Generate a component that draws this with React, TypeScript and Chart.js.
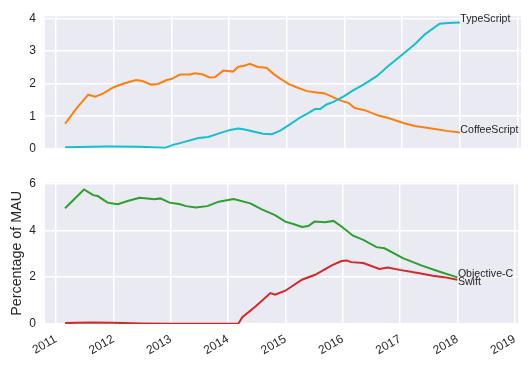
import React, { useEffect, useRef } from "react";
import { Chart, registerables } from "chart.js";

Chart.register(...registerables);

// ---- data (decimal years) ----
const xTickValues = [2011, 2012, 2013, 2014, 2015, 2016, 2017, 2018, 2019];
const topYTicks = [0, 1, 2, 3, 4];
const bottomYTicks = [0, 2, 4, 6];

const coffeeX = [2011.16, 2011.36, 2011.56, 2011.68, 2011.82, 2012.0, 2012.19, 2012.39, 2012.5, 2012.65, 2012.77, 2012.92, 2013.0, 2013.15, 2013.32, 2013.41, 2013.55, 2013.66, 2013.76, 2013.9, 2014.07, 2014.16, 2014.25, 2014.36, 2014.5, 2014.65, 2014.77, 2014.88, 2015.03, 2015.17, 2015.35, 2015.52, 2015.66, 2015.81, 2015.95, 2016.07, 2016.18, 2016.36, 2016.59, 2016.79, 2017.02, 2017.22, 2017.51, 2017.77, 2018.0];
const coffeeY = [0.77, 1.25, 1.66, 1.60, 1.70, 1.89, 2.01, 2.11, 2.08, 1.97, 1.99, 2.11, 2.14, 2.28, 2.28, 2.32, 2.28, 2.19, 2.20, 2.40, 2.37, 2.52, 2.54, 2.61, 2.51, 2.49, 2.30, 2.16, 1.99, 1.89, 1.77, 1.73, 1.70, 1.58, 1.47, 1.41, 1.25, 1.18, 1.02, 0.93, 0.79, 0.70, 0.62, 0.55, 0.50];

const tsX = [2011.16, 2011.85, 2012.0, 2012.43, 2012.89, 2013.03, 2013.18, 2013.47, 2013.64, 2013.84, 2014.02, 2014.16, 2014.25, 2014.42, 2014.59, 2014.74, 2014.88, 2015.05, 2015.23, 2015.35, 2015.49, 2015.58, 2015.69, 2015.81, 2015.98, 2016.15, 2016.33, 2016.56, 2016.76, 2017.02, 2017.22, 2017.4, 2017.65, 2017.8, 2018.0];
const tsY = [0.05, 0.07, 0.07, 0.06, 0.03, 0.12, 0.19, 0.33, 0.36, 0.48, 0.58, 0.62, 0.60, 0.53, 0.46, 0.45, 0.55, 0.74, 0.96, 1.07, 1.22, 1.22, 1.36, 1.44, 1.60, 1.79, 1.97, 2.23, 2.54, 2.92, 3.21, 3.52, 3.84, 3.86, 3.88];

const objcX = [2011.16, 2011.49, 2011.65, 2011.73, 2011.9, 2012.08, 2012.25, 2012.46, 2012.72, 2012.82, 2012.98, 2013.15, 2013.27, 2013.44, 2013.64, 2013.84, 2014.1, 2014.39, 2014.59, 2014.82, 2015.0, 2015.14, 2015.29, 2015.4, 2015.51, 2015.69, 2015.84, 2015.98, 2016.18, 2016.36, 2016.59, 2016.73, 2017.05, 2017.37, 2017.68, 2018.0];
const objcY = [4.94, 5.74, 5.50, 5.46, 5.18, 5.11, 5.25, 5.39, 5.32, 5.36, 5.18, 5.12, 5.03, 4.97, 5.03, 5.22, 5.33, 5.15, 4.89, 4.65, 4.37, 4.27, 4.14, 4.18, 4.37, 4.34, 4.40, 4.16, 3.77, 3.59, 3.28, 3.23, 2.81, 2.50, 2.24, 1.99];

const swiftX = [2011.16, 2011.6, 2012.0, 2012.5, 2013.0, 2013.5, 2014.0, 2014.18, 2014.25, 2014.48, 2014.74, 2014.82, 2015.0, 2015.29, 2015.52, 2015.81, 2015.98, 2016.07, 2016.15, 2016.36, 2016.64, 2016.79, 2016.99, 2017.34, 2017.57, 2017.77, 2018.0];
const swiftY = [0.04, 0.06, 0.05, 0.02, 0.01, 0.01, 0.01, 0.01, 0.29, 0.75, 1.32, 1.25, 1.42, 1.89, 2.10, 2.50, 2.69, 2.71, 2.64, 2.60, 2.35, 2.41, 2.31, 2.17, 2.06, 2.00, 1.89];

const topLabels = [
  { text: "TypeScript", x: 2018.0, y: 3.88 },
  { text: "CoffeeScript", x: 2018.0, y: 0.5 },
];
const bottomLabels = [
  { text: "Objective-C", x: 2018.0, y: 1.99 },
  { text: "Swift", x: 2018.0, y: 1.68 },
];

const X_MIN = 2010.81;
const X_MAX = 2019.06;
const TOP_Y_MAX = 4.07;
const BOTTOM_Y_MAX = 6.03;

const TEXT = "#262626";
const FONT = "'Liberation Sans', Arial, sans-serif";

const pts = (xs: number[], ys: number[]) => xs.map((x, i) => ({ x, y: ys[i] }));

const bgPlugin = {
  id: "bg",
  beforeDraw(chart: any) {
    const { ctx, chartArea } = chart;
    ctx.save();
    ctx.fillStyle = "#EAEAF2";
    ctx.fillRect(chartArea.left, chartArea.top, chartArea.right - chartArea.left, chartArea.bottom - chartArea.top);
    ctx.restore();
  },
};

const labelPlugin = (labels: { text: string; x: number; y: number }[]) => ({
  id: "endLabels",
  afterDatasetsDraw(chart: any) {
    const { ctx } = chart;
    const xs = chart.scales.x;
    const ys = chart.scales.y;
    ctx.save();
    ctx.fillStyle = TEXT;
    ctx.font = `10.6px ${FONT}`;
    ctx.textAlign = "left";
    ctx.textBaseline = "alphabetic";
    labels.forEach((l) => {
      ctx.fillText(l.text, xs.getPixelForValue(l.x) + 0.5, ys.getPixelForValue(l.y));
    });
    ctx.restore();
  },
});

const ds = (label: string, xs: number[], ys: number[], color: string) => ({
  label,
  data: pts(xs, ys),
  borderColor: color,
  backgroundColor: color,
  borderWidth: 2,
  pointRadius: 0,
  tension: 0,
  fill: false,
});

const gridOpts = { color: "#ffffff", lineWidth: 1.5, drawTicks: false };

function makeXScale(showTicks: boolean) {
  return {
    type: "linear",
    min: X_MIN,
    max: X_MAX,
    afterBuildTicks: (s: any) => {
      s.ticks = xTickValues.map((v) => ({ value: v }));
    },
    ticks: showTicks
      ? {
          display: true,
          color: TEXT,
          font: { family: FONT, size: 12 },
          minRotation: 30,
          maxRotation: 30,
          padding: 8,
          autoSkip: false,
          callback: (v: any) => String(v),
        }
      : { display: false },
    grid: gridOpts,
    border: { display: false },
    afterFit: (s: any) => {
      s.height = showTicks ? 44 : 0;
    },
  };
}

function makeYScale(max: number, tickVals: number[], title?: string) {
  return {
    type: "linear",
    min: 0,
    max,
    afterBuildTicks: (s: any) => {
      s.ticks = tickVals.map((v) => ({ value: v }));
    },
    ticks: {
      color: TEXT,
      font: { family: FONT, size: 12 },
      padding: 9,
      callback: (v: any) => String(v),
    },
    title: title
      ? {
          display: true,
          text: title,
          color: TEXT,
          font: { family: FONT, size: 14.3 },
          padding: { top: 8, bottom: 0 },
        }
      : { display: false },
    grid: gridOpts,
    border: { display: false },
    afterFit: (s: any) => {
      s.width = 45;
    },
  };
}

export default function App() {
  const topRef = useRef<HTMLCanvasElement>(null);
  const botRef = useRef<HTMLCanvasElement>(null);

  useEffect(() => {
    const top = new Chart(topRef.current as HTMLCanvasElement, {
      type: "line",
      data: {
        datasets: [
          ds("TypeScript", tsX, tsY, "#17becf"),
          ds("CoffeeScript", coffeeX, coffeeY, "#ff7f0e"),
        ],
      },
      options: {
        animation: false,
        responsive: false,
        maintainAspectRatio: false,
        layout: { padding: { left: 0, right: 9, top: 12, bottom: 11.7 } },
        plugins: { legend: { display: false }, tooltip: { enabled: false } },
        scales: {
          x: makeXScale(false) as any,
          y: makeYScale(TOP_Y_MAX, topYTicks) as any,
        },
      },
      plugins: [bgPlugin, labelPlugin(topLabels)],
    });
    const bot = new Chart(botRef.current as HTMLCanvasElement, {
      type: "line",
      data: {
        datasets: [
          ds("Objective-C", objcX, objcY, "#2ca02c"),
          ds("Swift", swiftX, swiftY, "#d62728"),
        ],
      },
      options: {
        animation: false,
        responsive: false,
        maintainAspectRatio: false,
        layout: { padding: { left: 0, right: 9, top: 17.7, bottom: 0 } },
        plugins: { legend: { display: false }, tooltip: { enabled: false } },
        scales: {
          x: makeXScale(true) as any,
          y: makeYScale(BOTTOM_Y_MAX, bottomYTicks, "Percentage of MAU") as any,
        },
      },
      plugins: [bgPlugin, labelPlugin(bottomLabels)],
    });
    return () => {
      top.destroy();
      bot.destroy();
    };
  }, []);

  return (
    <div style={{ position: "absolute", left: 0, top: 0, width: 530, height: 368, background: "#ffffff" }}>
      <canvas ref={topRef} width={530} height={165} style={{ position: "absolute", left: 0, top: 0, display: "block" }} />
      <canvas ref={botRef} width={530} height={203} style={{ position: "absolute", left: 0, top: 165, display: "block" }} />
    </div>
  );
}
